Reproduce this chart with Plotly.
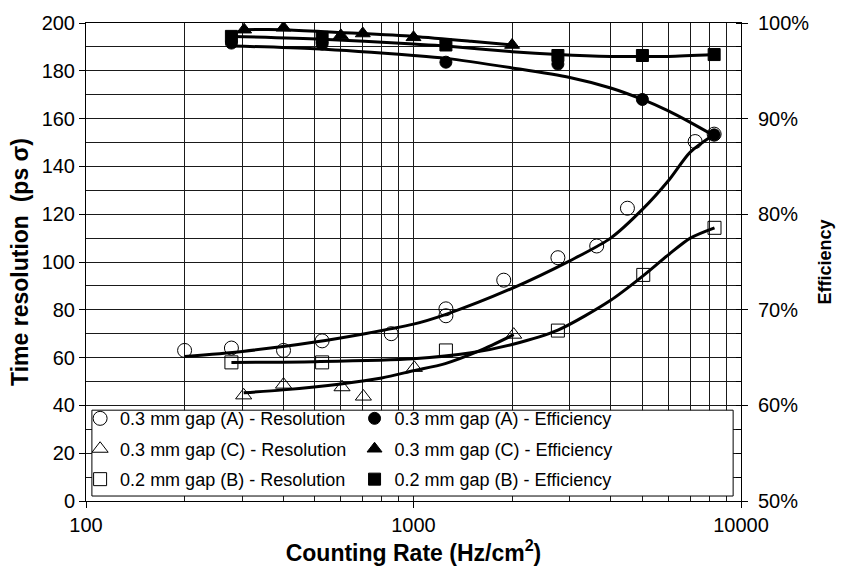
import plotly.graph_objects as go

# ---------------- data ----------------
rate_A_res = [200, 278, 401, 526, 855, 1256, 1256, 1886, 2760, 3626, 4500, 7244, 8280]
res_A = [63, 64, 63, 67, 70, 80.4, 77.5, 92.4, 101.8, 106.7, 122.5, 150.4, 153.5]

rate_C_res = [303, 401, 605, 703, 1006, 2023]
res_C = [44.2, 48.7, 47.6, 43.7, 55.7, 69.6]

rate_B_res = [278, 526, 1256, 2760, 5030, 8300]
res_B = [58, 58, 63, 71.3, 94.6, 114.3]

rate_A_eff = [278, 526, 1256, 2760, 5000, 8280]
eff_A = [97.9, 97.8, 95.9, 95.7, 92.0, 88.3]

rate_C_eff = [304, 401, 600, 700, 1000, 2000]
eff_C = [99.3, 99.5, 98.7, 98.9, 98.5, 97.7]

rate_B_eff = [278, 526, 1256, 2760, 5000, 8280]
eff_B = [98.6, 98.5, 97.7, 96.6, 96.6, 96.7]

# trend curves
trend_A_res_x = [200, 300, 500, 1000, 1250, 2000, 3000, 4000, 5000, 6000, 7000, 8300]
trend_A_res = [60.5, 62.6, 66.5, 74, 78, 89, 100.5, 110, 122, 134, 146, 153.5]
trend_B_res_x = [278, 500, 1000, 1500, 2000, 2760, 4000, 5000, 6000, 7000, 8300]
trend_B_res = [58, 58.3, 59.5, 62, 65.5, 71.5, 84, 94, 103, 110, 114.3]
trend_C_res_x = [303, 400, 600, 800, 1000, 1250, 1600, 2023]
trend_C_res = [45.3, 46.5, 49, 51.5, 54.5, 57.5, 63, 69.6]

trend_A_eff_x = [278, 500, 1000, 1256, 2000, 3000, 4000, 5000, 6000, 7000, 8280]
trend_A_eff = [97.6, 97.3, 96.6, 96.3, 95.3, 94.3, 93.2, 92.0, 90.8, 89.6, 88.2]
trend_B_eff_x = [278, 526, 1000, 1256, 2000, 2760, 4000, 5000, 6000, 8280]
trend_B_eff = [98.6, 98.3, 97.8, 97.6, 97.0, 96.7, 96.5, 96.5, 96.5, 96.7]
trend_C_eff_x = [304, 400, 600, 1000, 1500, 2000]
trend_C_eff = [99.3, 99.3, 99.0, 98.6, 98.1, 97.7]

x_tick_vals = [100, 1000, 10000]
x_tick_text = ["100", "1000", "10000"]
x_minor_vals = [200, 300, 400, 500, 600, 700, 800, 900,
                2000, 3000, 4000, 5000, 6000, 7000, 8000, 9000]

FONT = "Liberation Sans, Arial, sans-serif"
BLACK = "black"
GRID = "#1a1a1a"

fig = go.Figure()


def line(x, y, axis):
    fig.add_trace(go.Scatter(x=x, y=y, mode="lines", yaxis=axis,
                             line=dict(color=BLACK, width=3, shape="spline", smoothing=0.8),
                             showlegend=False, hoverinfo="skip"))


line(trend_A_res_x, trend_A_res, "y")
line(trend_B_res_x, trend_B_res, "y")
line(trend_C_res_x, trend_C_res, "y")
line(trend_A_eff_x, trend_A_eff, "y2")
line(trend_B_eff_x, trend_B_eff, "y2")
line(trend_C_eff_x, trend_C_eff, "y2")


def pts(x, y, name, symbol, axis, size, legend):
    fig.add_trace(go.Scatter(
        x=x, y=y, mode="markers", name=name, yaxis=axis,
        legend=legend, legendgroup=name,
        marker=dict(symbol=symbol, size=size, color=BLACK,
                    line=dict(color=BLACK, width=1))))


pts(rate_A_res, res_A, "0.3 mm gap (A) - Resolution", "circle-open", "y", 14, "legend")
pts(rate_C_res, res_C, "0.3 mm gap (C) - Resolution", "triangle-up-open", "y", 14, "legend")
pts(rate_B_res, res_B, "0.2 mm gap (B) - Resolution", "square-open", "y", 13, "legend")
pts(rate_A_eff, eff_A, "0.3 mm gap (A) - Efficiency", "circle", "y2", 12, "legend2")
pts(rate_C_eff, eff_C, "0.3 mm gap (C) - Efficiency", "triangle-up", "y2", 13, "legend2")
pts(rate_B_eff, eff_B, "0.2 mm gap (B) - Efficiency", "square", "y2", 12, "legend2")

leg_common = dict(orientation="v", yanchor="top", y=0.211, xanchor="left",
                  bgcolor="rgba(0,0,0,0)", borderwidth=0, itemwidth=30,
                  tracegroupgap=4, font=dict(size=18, family=FONT), traceorder="grouped")

fig.update_layout(
    width=844, height=575, autosize=False,
    margin=dict(l=86, r=101, t=21, b=74),
    paper_bgcolor="white", plot_bgcolor="white",
    font=dict(family=FONT, size=20, color=BLACK),
    showlegend=True,
    legend=dict(x=-0.009, **leg_common),
    legend2=dict(x=0.41, **leg_common),
    xaxis=dict(type="log", range=[2, 4], tickvals=x_tick_vals, ticktext=x_tick_text,
               ticks="outside", ticklen=6, tickcolor=BLACK,
               showline=True, linecolor=BLACK, linewidth=1, mirror=True,
               showgrid=True, gridcolor=GRID, gridwidth=1,
               minor=dict(tickvals=x_minor_vals, showgrid=True, gridcolor=GRID, gridwidth=1, ticks=""),
               tickfont=dict(size=20),
               title=dict(text="<b>Counting Rate (Hz/cm<sup>2</sup>)</b>", font=dict(size=23), standoff=8),
               zeroline=False),
    yaxis=dict(range=[0, 200], dtick=20, ticks="outside", ticklen=6, tickcolor=BLACK,
               showline=True, linecolor=BLACK, linewidth=1,
               showgrid=True, gridcolor=GRID, gridwidth=1,
               minor=dict(dtick=10, showgrid=True, gridcolor=GRID, gridwidth=1, ticks=""),
               tickfont=dict(size=20),
               title=dict(text="<b>Time resolution  (ps σ)</b>", font=dict(size=23), standoff=6),
               zeroline=False),
    yaxis2=dict(range=[50, 100], dtick=10, ticksuffix="%", overlaying="y", side="right",
                ticks="outside", ticklen=6, tickcolor=BLACK,
                showline=True, linecolor=BLACK, linewidth=1,
                showgrid=False, zeroline=False, ticklabelstandoff=6,
                minor=dict(dtick=2.5, ticks="inside", ticklen=5, tickcolor=BLACK),
                tickfont=dict(size=20),
                title=dict(text="<b>Efficiency</b>", font=dict(size=18), standoff=10)),
    shapes=[dict(type="rect", xref="paper", yref="paper",
                 x0=0.009, x1=0.988, y0=0.0104, y1=0.19,
                 line=dict(color=BLACK, width=1), fillcolor="white", layer="above")],
)

fig.write_html("out.html")
